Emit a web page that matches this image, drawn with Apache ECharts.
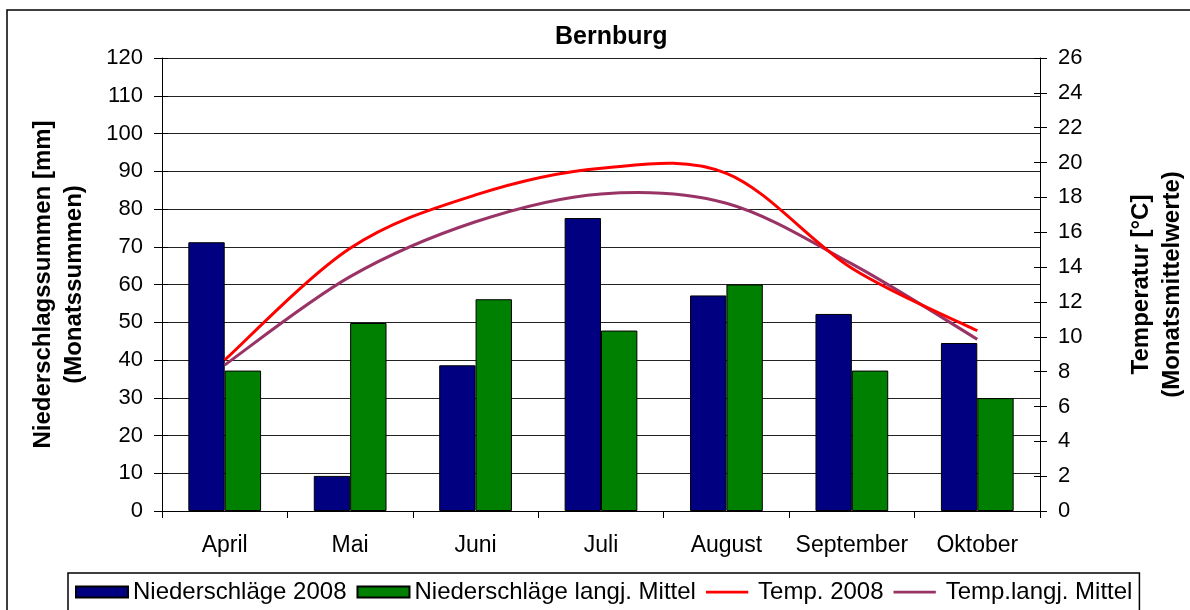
<!DOCTYPE html>
<html>
<head>
<meta charset="utf-8">
<script src="https://cdn.jsdelivr.net/npm/echarts@6/dist/echarts.min.js"></script>
<style>
html,body{margin:0;padding:0;background:#fff;}
#chart{width:1190px;height:610px;}
</style>
</head>
<body>
<div id="chart"></div>
<script>
const months = ['April', 'Mai', 'Juni', 'Juli', 'August', 'September', 'Oktober'];
const rain2008 = [71.2, 9.3, 38.6, 77.6, 57.1, 52.2, 44.5];
const rainMean = [37.2, 49.8, 56.1, 47.8, 60.0, 37.2, 29.9];
const temp2008 = [8.67, 15.08, 18.14, 19.67, 19.38, 13.93, 10.35];
const tempMean = [8.38, 13.45, 16.6, 18.2, 17.66, 14.18, 9.86];
const seriesNames = ['Niederschläge 2008', 'Niederschläge langj. Mittel', 'Temp. 2008', 'Temp.langj. Mittel'];

const FONT = '"Liberation Sans", Arial, sans-serif';
const chart = echarts.init(document.getElementById('chart'), null, {renderer: 'canvas'});

function sideAxis(pos, min, max, interval) {
  return {
    type: 'value', position: pos, min: min, max: max, interval: interval,
    axisLine: {show: false},
    axisTick: {show: true, inside: true, length: 6, lineStyle: {color: '#000', width: 1}},
    axisLabel: {show: false},
    splitLine: {show: false}
  };
}

// Smooth curve (Excel-like Catmull-Rom) through the data points, positioned via the axes
function smoothRenderer(values, color) {
  return function (params, api) {
    if (params.dataIndex !== 0) return null;
    const pts = values.map((v, i) => api.coord([i, v]));
    const n = pts.length;
    let d = 'M' + pts[0][0] + ',' + pts[0][1];
    for (let i = 0; i < n - 1; i++) {
      const p0 = pts[Math.max(i - 1, 0)], p1 = pts[i], p2 = pts[i + 1], p3 = pts[Math.min(i + 2, n - 1)];
      const c1x = p1[0] + (p2[0] - p0[0]) / 6, c1y = p1[1] + (p2[1] - p0[1]) / 6;
      const c2x = p2[0] - (p3[0] - p1[0]) / 6, c2y = p2[1] - (p3[1] - p1[1]) / 6;
      d += ' C' + c1x + ',' + c1y + ' ' + c2x + ',' + c2y + ' ' + p2[0] + ',' + p2[1];
    }
    return {
      type: 'path',
      shape: {pathData: d},
      style: {fill: null, stroke: color, lineWidth: 3, lineJoin: 'round'}
    };
  };
}

const lineIcon = 'path://M0,0H0.5V0.01H0Z M0,5H50V8.2H0Z M49.5,12.99H50V13H49.5Z';

chart.setOption({
  animation: false,
  backgroundColor: '#fff',
  textStyle: {fontFamily: FONT},
  title: {
    text: 'Bernburg', left: 555, top: 25, padding: 0,
    textStyle: {fontFamily: FONT, fontWeight: 'bold', fontSize: 25, color: '#000'}
  },
  graphic: [{
    type: 'rect', shape: {x: 7, y: 10, width: 1200, height: 620},
    style: {fill: 'none', stroke: '#000', lineWidth: 1.5}, silent: true, z: -1
  }],
  legend: {
    left: 68, top: 573,
    padding: [7, 7, 30, 7],
    itemGap: 10, itemWidth: 52, itemHeight: 11,
    borderColor: '#000', borderWidth: 1.5,
    textStyle: {fontFamily: FONT, fontSize: 24, color: '#000'},
    data: [
      {name: seriesNames[0], icon: 'rect'},
      {name: seriesNames[1], icon: 'rect'},
      {name: seriesNames[2], icon: lineIcon},
      {name: seriesNames[3], icon: lineIcon}
    ]
  },
  grid: {left: 162, right: 150, top: 58, height: 453, containLabel: false, outerBoundsMode: 'none'},
  xAxis: {
    type: 'category', data: months, boundaryGap: true,
    axisLine: {lineStyle: {color: '#000', width: 1}},
    axisTick: {show: true, length: 7, lineStyle: {color: '#000'}},
    axisLabel: {fontFamily: FONT, fontSize: 23, color: '#000', margin: 23, interval: 0},
    splitLine: {show: false}
  },
  yAxis: [
    {
      type: 'value', position: 'left', min: 0, max: 120, interval: 10,
      name: 'Niederschlagssummen [mm]\n(Monatssummen)',
      nameLocation: 'middle', nameRotate: 90, nameGap: 72,
      nameTextStyle: {fontFamily: FONT, fontWeight: 'bold', fontSize: 24, color: '#000', lineHeight: 31, align: 'center'},
      axisLine: {show: true, lineStyle: {color: '#000', width: 1}},
      axisTick: {show: true, length: 8, lineStyle: {color: '#000'}},
      axisLabel: {fontFamily: FONT, fontSize: 22, color: '#000', margin: 19},
      splitLine: {show: true, lineStyle: {color: '#222', width: 1}}
    },
    {
      type: 'value', position: 'right', min: 0, max: 26, interval: 2,
      name: 'Temperatur [°C]\n(Monatsmittelwerte)',
      nameLocation: 'middle', nameRotate: 90, nameGap: 86,
      nameTextStyle: {fontFamily: FONT, fontWeight: 'bold', fontSize: 24, color: '#000', lineHeight: 31, align: 'center'},
      axisLine: {show: true, lineStyle: {color: '#000', width: 1}},
      axisTick: {show: true, length: 7, lineStyle: {color: '#000'}},
      axisLabel: {fontFamily: FONT, fontSize: 22, color: '#000', margin: 18},
      splitLine: {show: false}
    },
    sideAxis('left', 0, 120, 10),
    sideAxis('right', 0, 26, 2)
  ],
  series: [
    {
      name: seriesNames[0], type: 'bar', data: rain2008, yAxisIndex: 0,
      barGap: '0%', barCategoryGap: '42%',
      itemStyle: {color: '#000080', borderColor: '#000', borderWidth: 1}
    },
    {
      name: seriesNames[1], type: 'bar', data: rainMean, yAxisIndex: 0,
      barGap: '0%', barCategoryGap: '42%',
      itemStyle: {color: '#008000', borderColor: '#000', borderWidth: 1}
    },
    {
      name: seriesNames[2], type: 'custom', yAxisIndex: 1,
      data: temp2008.map((v, i) => [i, v]), encode: {x: 0, y: 1},
      renderItem: smoothRenderer(temp2008, '#ff0000'),
      itemStyle: {color: '#ff0000'}, z: 5
    },
    {
      name: seriesNames[3], type: 'custom', yAxisIndex: 1,
      data: tempMean.map((v, i) => [i, v]), encode: {x: 0, y: 1},
      renderItem: smoothRenderer(tempMean, '#993366'),
      itemStyle: {color: '#993366'}, z: 4
    }
  ]
});
</script>
</body>
</html>
